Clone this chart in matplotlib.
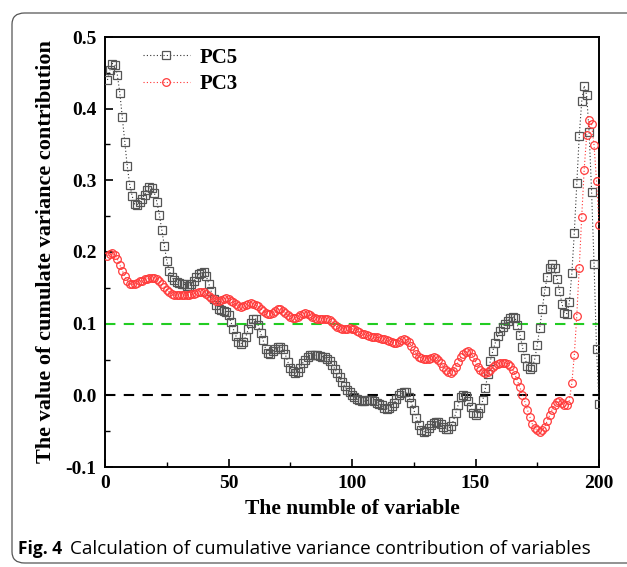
import numpy as np
import matplotlib
matplotlib.use("Agg")
import matplotlib.pyplot as plt
from matplotlib.patches import FancyBboxPatch

variables = list(range(1, 201))

pc5 = [
    0.440, 0.454, 0.463, 0.461, 0.447, 0.422, 0.388, 0.353, 0.320, 0.294,
    0.278, 0.267, 0.266, 0.270, 0.274, 0.280, 0.286, 0.290, 0.289, 0.282,
    0.270, 0.252, 0.230, 0.209, 0.188, 0.174, 0.165, 0.161, 0.158, 0.157,
    0.156, 0.155, 0.153, 0.152, 0.155, 0.160, 0.165, 0.169, 0.171, 0.172,
    0.166, 0.156, 0.145, 0.134, 0.126, 0.121, 0.119, 0.118, 0.116, 0.112,
    0.102, 0.092, 0.083, 0.075, 0.072, 0.075, 0.082, 0.092, 0.101, 0.106,
    0.107, 0.098, 0.087, 0.077, 0.065, 0.059, 0.057, 0.062, 0.065, 0.067,
    0.068, 0.064, 0.057, 0.047, 0.038, 0.034, 0.031, 0.032, 0.038, 0.045,
    0.050, 0.053, 0.056, 0.056, 0.056, 0.056, 0.055, 0.054, 0.053, 0.051,
    0.048, 0.043, 0.037, 0.031, 0.025, 0.019, 0.013, 0.008, 0.004, 0.000,
    -0.003, -0.005, -0.007, -0.008, -0.008, -0.007, -0.007, -0.007, -0.008, -0.010,
    -0.012, -0.014, -0.017, -0.019, -0.018, -0.015, -0.011, -0.005, 0.000, 0.003,
    0.005, 0.004, -0.002, -0.010, -0.020, -0.031, -0.041, -0.048, -0.051, -0.050,
    -0.046, -0.041, -0.038, -0.037, -0.037, -0.040, -0.044, -0.047, -0.047, -0.043,
    -0.036, -0.025, -0.013, -0.003, 0.001, -0.001, -0.008, -0.016, -0.025, -0.028,
    -0.025, -0.018, -0.006, 0.010, 0.030, 0.048, 0.062, 0.073, 0.083, 0.090,
    0.096, 0.100, 0.104, 0.108, 0.110, 0.108, 0.098, 0.084, 0.068, 0.052,
    0.041, 0.037, 0.039, 0.051, 0.070, 0.094, 0.120, 0.145, 0.165, 0.178,
    0.183, 0.178, 0.163, 0.146, 0.128, 0.115, 0.114, 0.130, 0.170, 0.227,
    0.296, 0.362, 0.410, 0.432, 0.419, 0.367, 0.284, 0.183, 0.065, -0.012,
]

pc3 = [
    0.195, 0.197, 0.198, 0.196, 0.190, 0.182, 0.174, 0.166, 0.160, 0.156,
    0.155, 0.155, 0.157, 0.159, 0.160, 0.162, 0.163, 0.164, 0.164, 0.164,
    0.162, 0.159, 0.155, 0.151, 0.147, 0.144, 0.142, 0.140, 0.140, 0.140,
    0.140, 0.140, 0.140, 0.140, 0.141, 0.142, 0.143, 0.144, 0.144, 0.144,
    0.142, 0.139, 0.136, 0.134, 0.132, 0.132, 0.133, 0.135, 0.136, 0.135,
    0.132, 0.130, 0.127, 0.124, 0.123, 0.124, 0.126, 0.128, 0.129, 0.128,
    0.126, 0.124, 0.121, 0.118, 0.115, 0.113, 0.113, 0.115, 0.118, 0.120,
    0.120, 0.118, 0.115, 0.112, 0.110, 0.108, 0.108, 0.110, 0.112, 0.114,
    0.115, 0.114, 0.112, 0.110, 0.108, 0.107, 0.107, 0.107, 0.107, 0.106,
    0.105, 0.102, 0.098, 0.095, 0.094, 0.093, 0.093, 0.093, 0.094, 0.093,
    0.092, 0.090, 0.088, 0.086, 0.085, 0.084, 0.083, 0.082, 0.081, 0.081,
    0.080, 0.079, 0.078, 0.077, 0.076, 0.074, 0.073, 0.073, 0.075, 0.077,
    0.078, 0.077, 0.074, 0.069, 0.063, 0.058, 0.054, 0.052, 0.051, 0.051,
    0.051, 0.052, 0.053, 0.052, 0.049, 0.045, 0.040, 0.036, 0.032, 0.031,
    0.034, 0.040, 0.047, 0.053, 0.058, 0.061, 0.062, 0.059, 0.054, 0.047,
    0.040, 0.035, 0.032, 0.031, 0.033, 0.036, 0.039, 0.042, 0.044, 0.045,
    0.045, 0.045, 0.044, 0.041, 0.036, 0.029, 0.020, 0.011, 0.001, -0.009,
    -0.020, -0.030, -0.040, -0.045, -0.049, -0.051, -0.049, -0.044, -0.036, -0.028,
    -0.020, -0.013, -0.009, -0.008, -0.011, -0.014, -0.014, -0.007, 0.017, 0.056,
    0.111, 0.178, 0.249, 0.315, 0.363, 0.384, 0.378, 0.349, 0.299, 0.238,
]

x_ticks = [0, 50, 100, 150, 200]
y_ticks = [-0.1, 0.0, 0.1, 0.2, 0.3, 0.4, 0.5]
threshold_green = 0.1
threshold_black = 0.0

W, H = 627, 567
fig = plt.figure(figsize=(W / 100, H / 100), dpi=100)

# rounded frame around figure
frame = FancyBboxPatch((12 / W, 1 - 563 / H), 700 / W, (563 - 13) / H,
                       boxstyle="round,pad=0,rounding_size=0.02",
                       transform=fig.transFigure, fill=False,
                       edgecolor="#555555", linewidth=0.9, clip_on=False)
fig.patches.append(frame)

ax = fig.add_axes([105 / W, 1 - 467 / H, (599 - 105) / W, (467 - 37) / H])

serif = "Liberation Serif"

ax.plot(variables, pc5, linestyle=(0, (1, 2)), color="#333333", linewidth=0.8,
        marker="s", markersize=5.3, markerfacecolor="none",
        markeredgecolor="#555555", markeredgewidth=0.9, label="PC5", zorder=3)
ax.plot(variables, pc3, linestyle=(0, (1, 2)), color="#ff3030", linewidth=0.8,
        marker="o", markersize=5.5, markerfacecolor="none",
        markeredgecolor="#ff3b3b", markeredgewidth=0.9, label="PC3", zorder=3)

ax.axhline(threshold_green, color="#22cc22", linestyle=(0, (5, 4)), linewidth=1.5, zorder=2)
ax.axhline(threshold_black, color="black", linestyle=(0, (5, 4)), linewidth=1.5, zorder=2)

ax.set_xlim(0, 200)
ax.set_ylim(-0.1, 0.5)
ax.set_xticks(x_ticks)
ax.set_yticks(y_ticks)
ax.set_xticks([25, 75, 125, 175], minor=True)
ax.set_yticks([-0.05, 0.05, 0.15, 0.25, 0.35, 0.45], minor=True)
ax.set_xticklabels([str(v) for v in x_ticks])
ax.set_yticklabels(["%.1f" % v for v in y_ticks])
ax.tick_params(axis="both", which="major", direction="in", length=6, width=1.2,
               labelsize=14, top=False, right=False, pad=6)
ax.tick_params(axis="both", which="minor", direction="in", length=3.5, width=1.0,
               top=False, right=False)
for lab in ax.get_xticklabels() + ax.get_yticklabels():
    lab.set_fontfamily(serif)
    lab.set_fontweight("bold")
for s in ax.spines.values():
    s.set_linewidth(1.4)

ax.set_xlabel("The numble of variable", fontfamily=serif, fontweight="bold",
              fontsize=15.5, labelpad=5)
ax.set_ylabel("The value of cumulate variance contribution", fontfamily=serif,
              fontweight="bold", fontsize=16, labelpad=7)

leg = ax.legend(loc="upper left", bbox_to_anchor=(0.077, 0.975), frameon=False,
                handlelength=2.25, numpoints=1, handletextpad=0.45, labelspacing=0.3,
                borderpad=0, borderaxespad=0,
                prop={"family": serif, "weight": "bold", "size": 15})

fig.text(18 / W, 1 - 549 / H, "Fig. 4", fontfamily=["Open Sans", "DejaVu Sans"],
         fontweight="bold", fontsize=12.5, va="center", ha="left")
fig.text(70 / W, 1 - 549 / H, "Calculation of cumulative variance contribution of variables",
         fontfamily=["Open Sans", "DejaVu Sans"], fontsize=13.6, va="center", ha="left")

fig.savefig("out.png", dpi=100)
